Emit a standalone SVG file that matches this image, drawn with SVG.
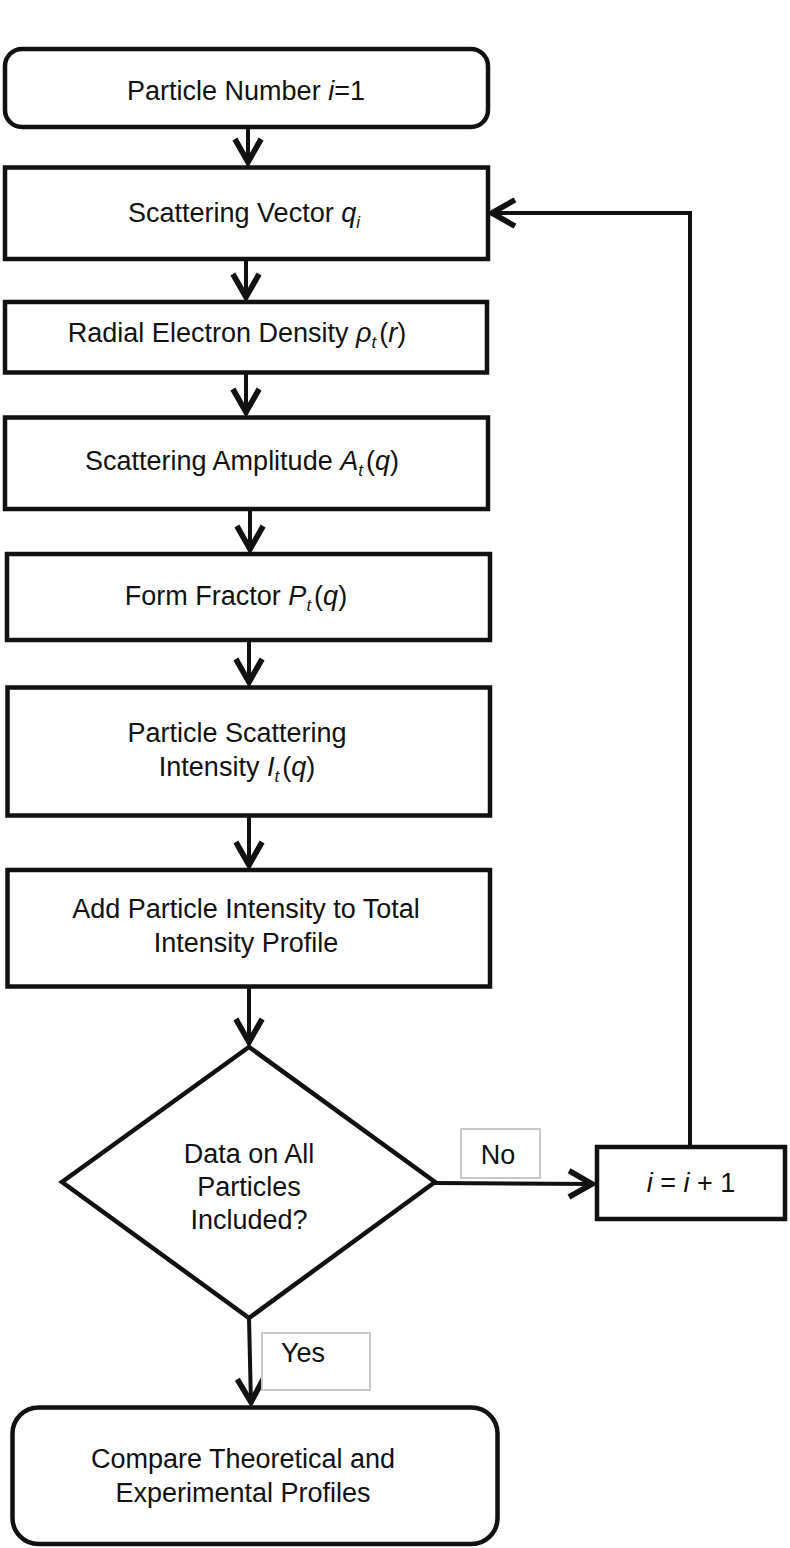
<svg xmlns="http://www.w3.org/2000/svg" width="790" height="1548" viewBox="0 0 790 1548">
<style>
.box{fill:#fff;stroke:#111;stroke-width:4.5}
.lbl{fill:#fff;stroke:#c8c8c8;stroke-width:2}
.con{fill:none;stroke:#111;stroke-width:4}
text{font-family:"Liberation Sans",Arial,Helvetica,sans-serif;font-size:27px;fill:#111;text-anchor:middle}
.it{font-style:italic}
.sub{font-style:italic;font-size:17px}
</style>
<defs>
<marker id="arr" markerUnits="userSpaceOnUse" markerWidth="40" markerHeight="40" viewBox="-26 -16 32 32" refX="0" refY="0" orient="auto">
<path d="M -20 -10.5 L -1.5 0 L -20 10.5" fill="none" stroke="#111" stroke-width="4.5" stroke-linejoin="miter"/>
</marker>
</defs>
<rect width="790" height="1548" fill="#fff"/>
<g id="connectors">
<line class="con" x1="248" y1="127" x2="248" y2="164" marker-end="url(#arr)"/>
<line class="con" x1="246" y1="259" x2="246" y2="299" marker-end="url(#arr)"/>
<line class="con" x1="246" y1="372" x2="246" y2="414" marker-end="url(#arr)"/>
<line class="con" x1="250" y1="509" x2="250" y2="551" marker-end="url(#arr)"/>
<line class="con" x1="249" y1="640" x2="249" y2="684" marker-end="url(#arr)"/>
<line class="con" x1="249" y1="815" x2="249" y2="867" marker-end="url(#arr)"/>
<line class="con" x1="249" y1="986" x2="249" y2="1044" marker-end="url(#arr)"/>
<path class="con" d="M 249 1318 L 251 1404" marker-end="url(#arr)"/>
<line class="con" x1="435" y1="1183" x2="594" y2="1184" marker-end="url(#arr)"/>
<path class="con" d="M 690 1146 L 690 213 L 490 213" marker-end="url(#arr)"/>
</g>
<g id="n1">
<rect class="box" x="5" y="49" width="483" height="78" rx="17"/>
<text x="246" y="100">Particle Number <tspan class="it">i</tspan>=1</text>
</g>
<g id="n2">
<rect class="box" x="5" y="167.5" width="483" height="91.5"/>
<text x="244" y="222">Scattering Vector <tspan class="it">q</tspan><tspan class="sub" dy="6">i</tspan></text>
</g>
<g id="n3">
<rect class="box" x="5" y="302" width="482" height="70.5"/>
<text x="237" y="342">Radial Electron Density <tspan class="it">ρ</tspan><tspan class="sub" dy="6">t</tspan><tspan dy="-6" dx="3">(</tspan><tspan class="it">r</tspan>)</text>
</g>
<g id="n4">
<rect class="box" x="5" y="417.5" width="483" height="91.5"/>
<text x="242" y="470">Scattering Amplitude <tspan class="it">A</tspan><tspan class="sub" dy="6">t</tspan><tspan dy="-6" dx="3">(</tspan><tspan class="it">q</tspan>)</text>
</g>
<g id="n5">
<rect class="box" x="7" y="554" width="483" height="86"/>
<text x="236" y="605">Form Fractor <tspan class="it">P</tspan><tspan class="sub" dy="6">t</tspan><tspan dy="-6" dx="3">(</tspan><tspan class="it">q</tspan>)</text>
</g>
<g id="n6">
<rect class="box" x="7.5" y="687.5" width="482.5" height="128"/>
<text x="237" y="742">Particle Scattering</text>
<text x="237" y="776">Intensity <tspan class="it">I</tspan><tspan class="sub" dy="6">t</tspan><tspan dy="-6" dx="3">(</tspan><tspan class="it">q</tspan>)</text>
</g>
<g id="n7">
<rect class="box" x="7.5" y="870" width="482.5" height="116.5"/>
<text x="246" y="918">Add Particle Intensity to Total</text>
<text x="246" y="952">Intensity Profile</text>
</g>
<g id="n8">
<polygon class="box" points="249,1047 435,1182 249,1318 62,1182"/>
<text x="249" y="1163">Data on All</text>
<text x="249" y="1196">Particles</text>
<text x="249" y="1229">Included?</text>
</g>
<g id="n9">
<rect class="box" x="597" y="1147" width="188" height="72"/>
<text x="691" y="1192"><tspan class="it">i</tspan> = <tspan class="it">i</tspan> + 1</text>
</g>
<g id="n10">
<rect class="box" x="12.5" y="1407.5" width="485" height="136.5" rx="26"/>
<text x="243" y="1468">Compare Theoretical and</text>
<text x="243" y="1502">Experimental Profiles</text>
</g>
<g id="lblNo">
<rect class="lbl" x="461" y="1129" width="79" height="49"/>
<text x="498" y="1164">No</text>
</g>
<g id="lblYes">
<rect class="lbl" x="262" y="1333" width="108" height="57"/>
<text x="303" y="1362">Yes</text>
</g>
</svg>
